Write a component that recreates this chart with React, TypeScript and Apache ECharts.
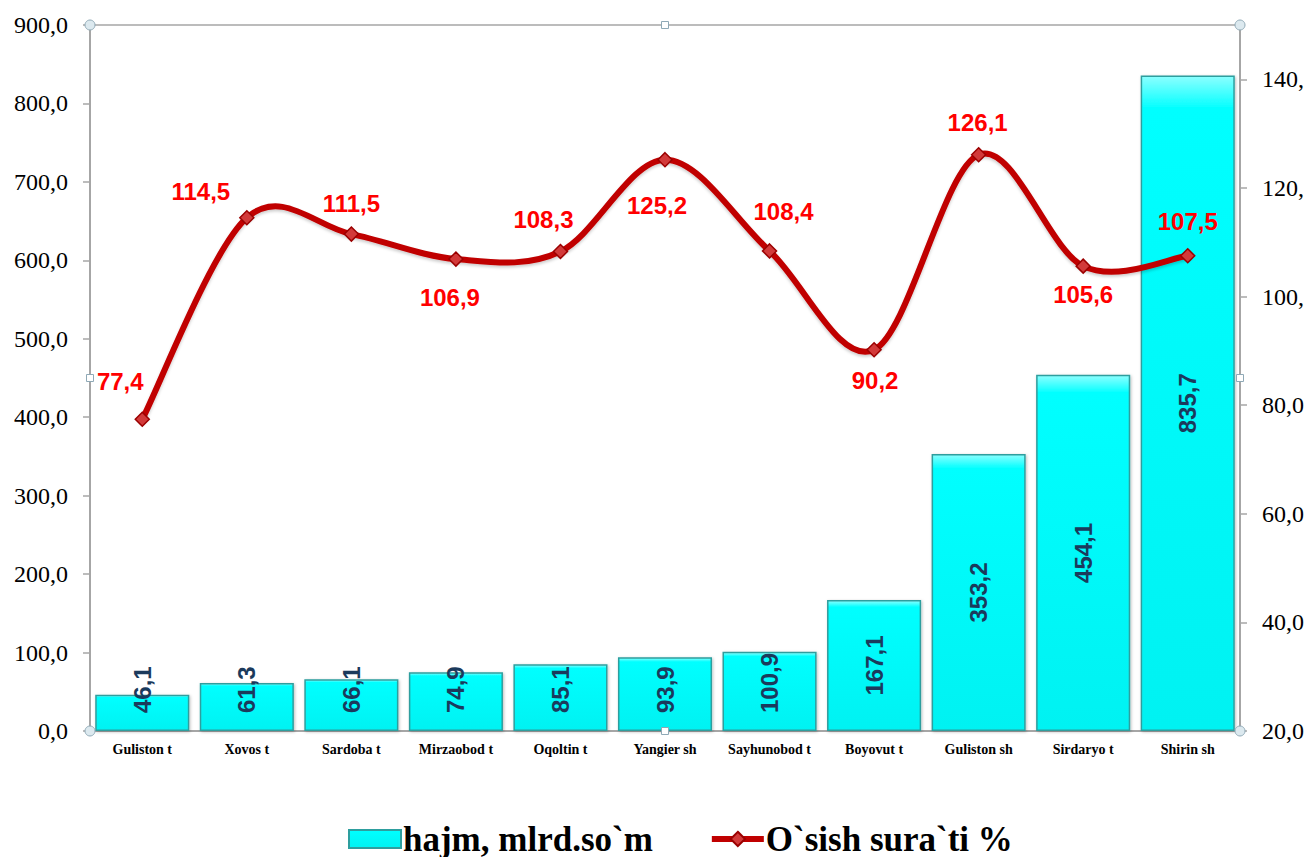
import React, { useEffect, useRef } from "react";
import * as echarts from "echarts";

const categories = [
  "Guliston t",
  "Xovos t",
  "Sardoba t",
  "Mirzaobod t",
  "Oqoltin t",
  "Yangier sh",
  "Sayhunobod t",
  "Boyovut t",
  "Guliston sh",
  "Sirdaryo t",
  "Shirin sh",
];
const hajm = [46.1, 61.3, 66.1, 74.9, 85.1, 93.9, 100.9, 167.1, 353.2, 454.1, 835.7];
const osish = [77.4, 114.5, 111.5, 106.9, 108.3, 125.2, 108.4, 90.2, 126.1, 105.6, 107.5];
const seriesNames = ["hajm, mlrd.so`m", "O`sish sura`ti %"];

const fmt = (v: number) => v.toFixed(1).replace(".", ",");

export default function App() {
  const ref = useRef<HTMLDivElement>(null);

  useEffect(() => {
    if (!ref.current) return;
    const chart = echarts.init(ref.current, undefined, { renderer: "svg" });

    const lineLabelOffsets: number[][] = [
      [-22, -38],
      [-46, -26],
      [0, -31],
      [-6, 38],
      [-17, -32],
      [-8, 46],
      [14, -39],
      [1, 31],
      [-1, -32],
      [0, 28],
      [0, -34],
    ];

    const gridLeft = 90;
    const gridRight = 1240;
    const gridTop = 25;
    const gridBottom = 731;
    const midX = (gridLeft + gridRight) / 2;
    const midY = (gridTop + gridBottom) / 2;

    const handleStyle = { fill: "#DCE9EF", stroke: "#8FA9B6", lineWidth: 1 };
    const corners = [
      [gridLeft, gridTop],
      [gridRight, gridTop],
      [gridLeft, gridBottom],
      [gridRight, gridBottom],
    ];
    const mids = [
      [midX, gridTop],
      [midX, gridBottom],
      [gridLeft, midY],
      [gridRight, midY],
    ];

    const graphic: any[] = [
      ...corners.map((c) => ({
        type: "circle",
        shape: { cx: c[0], cy: c[1], r: 5 },
        style: handleStyle,
        z: 100,
      })),
      ...mids.map((c) => ({
        type: "rect",
        shape: { x: c[0] - 3.5, y: c[1] - 3.5, width: 7, height: 7 },
        style: { fill: "#FFFFFF", stroke: "#8FA9B6", lineWidth: 1 },
        z: 100,
      })),
    ];

    const barFill = new echarts.graphic.LinearGradient(0, 0, 0, 1, [
      { offset: 0, color: "#8CFFFF" },
      { offset: 0.05, color: "#00FFFF" },
      { offset: 1, color: "#00F2F2" },
    ]);

    const lineColor = "#C00000";
    const n = osish.length;

    // Catmull-Rom style smoothing (like the spreadsheet's smoothed line)
    const renderCurve = (params: any, api: any) => {
      const i = params.dataIndex;
      if (i >= n - 1) return null;
      const P = (k: number) => {
        const kk = Math.max(0, Math.min(n - 1, k));
        return api.coord([kk, osish[kk]]);
      };
      const p0 = P(i - 1);
      const p1 = P(i);
      const p2 = P(i + 1);
      const p3 = P(i + 2);
      const t = 1 / 6;
      return {
        type: "bezierCurve",
        shape: {
          x1: p1[0],
          y1: p1[1],
          x2: p2[0],
          y2: p2[1],
          cpx1: p1[0] + (p2[0] - p0[0]) * t,
          cpy1: p1[1] + (p2[1] - p0[1]) * t,
          cpx2: p2[0] - (p3[0] - p1[0]) * t,
          cpy2: p2[1] - (p3[1] - p1[1]) * t,
        },
        style: {
          stroke: lineColor,
          lineWidth: 6,
          fill: "none",
          lineCap: "round",
          shadowColor: "rgba(0,0,0,0.2)",
          shadowBlur: 3,
          shadowOffsetY: 2,
        },
      };
    };

    const option: any = {
      animation: false,
      backgroundColor: "#FFFFFF",
      grid: {
        left: gridLeft,
        right: 1304 - gridRight,
        top: gridTop,
        bottom: 857 - gridBottom,
        show: true,
        borderColor: "#A6A6A6",
        borderWidth: 1.5,
        outerBoundsMode: "none",
        containLabel: false,
      },
      graphic,
      legend: {
        left: 343,
        top: 815,
        itemWidth: 52,
        itemHeight: 18,
        itemGap: 56,
        textStyle: {
          fontFamily: "Liberation Serif",
          fontWeight: "bold",
          fontSize: 35,
          lineHeight: 38,
          color: "#000000",
          padding: [0, 0, 0, -3],
        },
        data: [
          { name: seriesNames[0], icon: "rect" },
          {
            name: seriesNames[1],
            lineStyle: { color: lineColor, width: 6, opacity: 1 },
          },
        ],
      },
      xAxis: {
        type: "category",
        data: categories,
        axisLine: { lineStyle: { color: "#A6A6A6", width: 2 } },
        axisTick: { show: false },
        axisLabel: {
          fontFamily: "Liberation Serif",
          fontWeight: "bold",
          fontSize: 14,
          color: "#000000",
          margin: 11,
          interval: 0,
        },
      },
      yAxis: [
        {
          type: "value",
          min: 0,
          max: 900,
          interval: 100,
          splitLine: { show: false },
          axisLine: { show: true, lineStyle: { color: "#A6A6A6", width: 2 } },
          axisTick: { show: true, length: 7, lineStyle: { color: "#A6A6A6", width: 1.5 } },
          axisLabel: {
            fontFamily: "Liberation Serif",
            fontSize: 24,
            color: "#000000",
            margin: 22,
            formatter: (v: number) => fmt(v),
          },
        },
        {
          type: "value",
          min: 20,
          max: 150,
          interval: 20,
          position: "right",
          splitLine: { show: false },
          axisLine: { show: true, lineStyle: { color: "#A6A6A6", width: 2 } },
          axisTick: { show: true, length: 7, lineStyle: { color: "#A6A6A6", width: 1.5 } },
          axisLabel: {
            fontFamily: "Liberation Serif",
            fontSize: 24,
            color: "#000000",
            margin: 22,
            showMaxLabel: false,
            formatter: (v: number) => (v >= 150 ? "" : fmt(v)),
          },
        },
      ],
      series: [
        {
          name: seriesNames[0],
          type: "bar",
          yAxisIndex: 0,
          barCategoryGap: "10%",
          itemStyle: {
            color: barFill,
            borderColor: "#2E9E9E",
            borderWidth: 1.5,
            shadowColor: "rgba(0,0,0,0.25)",
            shadowBlur: 3,
            shadowOffsetX: 1,
            shadowOffsetY: 1,
          },
          data: hajm.map((v) => ({
            value: v,
            label:
              v < 150
                ? {
                    show: true,
                    position: "insideBottom",
                    distance: 18,
                    rotate: 90,
                    align: "left",
                    verticalAlign: "middle",
                  }
                : {
                    show: true,
                    position: "inside",
                    rotate: 90,
                    align: "center",
                    verticalAlign: "middle",
                  },
          })),
          label: {
            show: true,
            fontFamily: "Liberation Sans",
            fontWeight: "bold",
            fontSize: 24,
            color: "#1B3A5C",
            formatter: (p: any) => fmt(p.value),
          },
          z: 2,
        },
        {
          name: "curve",
          type: "custom",
          yAxisIndex: 1,
          coordinateSystem: "cartesian2d",
          renderItem: renderCurve,
          data: osish.map((v, i) => [i, v]),
          encode: { x: 0, y: 1 },
          silent: true,
          z: 4,
        },
        {
          name: seriesNames[1],
          type: "line",
          yAxisIndex: 1,
          symbol: "diamond",
          symbolSize: 14,
          lineStyle: {
            color: lineColor,
            width: 6,
            opacity: 0,
          },
          itemStyle: {
            color: "#D23A3A",
            borderColor: "#9B0000",
            borderWidth: 1.5,
          },
          data: osish.map((v, i) => ({
            value: v,
            label: {
              show: true,
              position: "inside",
              offset: lineLabelOffsets[i],
            },
          })),
          label: {
            show: true,
            fontFamily: "Liberation Sans",
            fontWeight: "bold",
            fontSize: 24,
            color: "#FF0000",
            formatter: (p: any) => fmt(p.value),
          },
          z: 5,
        },
      ],
    };

    chart.setOption(option);
    return () => chart.dispose();
  }, []);

  return (
    <div
      ref={ref}
      style={{ position: "fixed", left: 0, top: 0, width: 1304, height: 857 }}
    />
  );
}
